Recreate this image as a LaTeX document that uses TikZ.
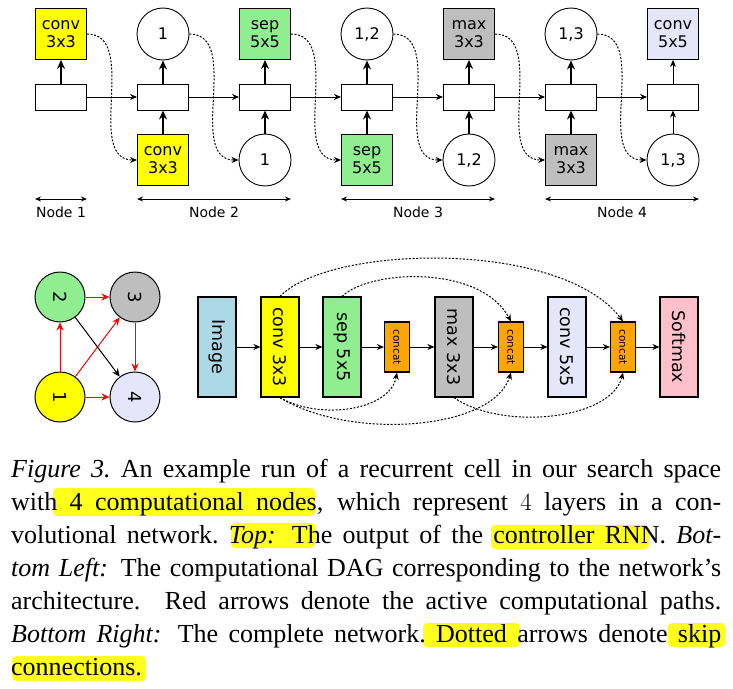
\documentclass[tikz,border=0pt]{standalone}
\usepackage[no-math]{fontspec}
\setmainfont{Liberation Serif}
\newfontfamily\dejavu{DejaVu Sans}
\usetikzlibrary{arrows.meta,positioning}
\definecolor{OpYellow}{RGB}{255,255,0}
\definecolor{OpGreen}{RGB}{144,238,144}
\definecolor{OpGray}{RGB}{190,190,190}
\definecolor{OpLavender}{RGB}{230,230,250}
\definecolor{ImgBlue}{RGB}{173,216,230}
\definecolor{SoftPink}{RGB}{255,192,203}
\definecolor{CatOrange}{RGB}{255,165,0}
\definecolor{HiYellow}{RGB}{255,255,30}

\begin{document}
\begin{tikzpicture}[x=1pt,y=-1pt,
  op/.style={draw,line width=0.9pt,minimum size=51pt,inner sep=0pt,align=center,
    font=\dejavu\fontsize{16}{18.5}\selectfont},
  idx/.style={circle,draw,line width=0.9pt,minimum size=52pt,inner sep=0pt,
    font=\dejavu\fontsize{16}{18.5}\selectfont},
  cell/.style={draw,line width=0.9pt,minimum width=51pt,minimum height=26pt,inner sep=0pt},
  feed/.style={line width=2pt,-{Stealth[length=9pt,width=8pt]}},
  flow/.style={line width=0.9pt,-{Stealth[length=7pt,width=6pt]}},
  skipline/.style={line width=1pt,dash pattern=on 2pt off 1.6pt,-{Stealth[length=7pt,width=6pt]}},
  span/.style={line width=0.9pt,{Stealth[length=6pt,width=5pt]}-{Stealth[length=6pt,width=5pt]}},
  dag/.style={circle,draw,line width=1pt,minimum size=50pt,inner sep=0pt,
    font=\dejavu\fontsize{18}{18}\selectfont},
  dagedge/.style={red,line width=1pt,-{Stealth[length=8pt,width=7pt]}},
  netbox/.style={draw,line width=1.2pt,minimum width=38pt,minimum height=100pt,inner sep=0pt,
    font=\dejavu\fontsize{17.5}{18}\selectfont},
  catbox/.style={draw,line width=1.2pt,fill=CatOrange,minimum width=25pt,minimum height=50pt,
    inner sep=0pt,font=\dejavu\fontsize{10.5}{11}\selectfont},
  hilite/.style={fill=HiYellow,rounded corners=4pt}]
  \useasboundingbox (0,0) rectangle (733,688);

  % controller output, top row
  \node[op,fill=OpYellow] (t0) at (61,34) {conv\\3x3};
  \node[idx] (t1) at (163,34) {1};
  \node[op,fill=OpGreen] (t2) at (265,34) {sep\\5x5};
  \node[idx] (t3) at (367,34) {1,2};
  \node[op,fill=OpGray] (t4) at (469,34) {max\\3x3};
  \node[idx] (t5) at (571,34) {1,3};
  \node[op,fill=OpLavender] (t6) at (673,34) {conv\\5x5};
  \foreach \i in {0,...,6}
    \node[cell] (m\i) at (61+102*\i,97) {};
  \node[op,fill=OpYellow] (b1) at (163,160) {conv\\3x3};
  \node[idx] (b2) at (265,160) {1};
  \node[op,fill=OpGreen] (b3) at (367,160) {sep\\5x5};
  \node[idx] (b4) at (469,160) {1,2};
  \node[op,fill=OpGray] (b5) at (571,160) {max\\3x3};
  \node[idx] (b6) at (673,160) {1,3};

  \foreach \i/\j in {0/1,1/2,2/3,3/4,4/5,5/6}{
    \draw[flow] (m\i) -- (m\j);
    \draw[skipline] (t\i.east) to[out=0,in=180] (b\j.west);
  }
  \foreach \i in {0,...,5} \draw[feed] (m\i) -- (t\i);
  \foreach \i in {1,...,5} \draw[feed] (b\i) -- (m\i);
  \draw[flow] (m6) -- (t6);
  \draw[flow] (b6) -- (m6);

  \coordinate (lvl) at (0,199);
  \foreach \a/\b/\k in {0/0/1,1/2/2,3/4/3,5/6/4}
    \draw[span] (m\a.west |- lvl) -- (m\b.east |- lvl)
      node[midway,below=4pt,font=\dejavu\fontsize{14}{16}\selectfont] {Node \k};

  % DAG
  \node[dag,fill=OpGreen] (d2) at (60,297) {\rotatebox{-90}{2}};
  \node[dag,fill=OpGray] (d3) at (135,297) {\rotatebox{-90}{3}};
  \node[dag,fill=OpYellow] (d1) at (60,397) {\rotatebox{-90}{1}};
  \node[dag,fill=OpLavender] (d4) at (135,397) {\rotatebox{-90}{4}};
  \draw[dagedge] (d1) -- (d2);
  \draw[dagedge] (d1) -- (d3);
  \draw[dagedge] (d1) -- (d4);
  \draw[dagedge] (d2) -- (d3);
  \draw[dagedge] (d3) -- (d4);
  \draw[dagedge,black] (d2) -- (d4);

  % complete network
  \node[netbox,fill=ImgBlue] (img) at (217,347) {\rotatebox{-90}{Image}};
  \node[netbox,fill=OpYellow] (conva) at (280,347) {\rotatebox{-90}{conv 3x3}};
  \node[netbox,fill=OpGreen] (sep) at (342,347) {\rotatebox{-90}{sep 5x5}};
  \node[catbox] (cat1) at (397,347) {\rotatebox{-90}{concat}};
  \node[netbox,fill=OpGray] (maxp) at (454,347) {\rotatebox{-90}{max 3x3}};
  \node[catbox] (cat2) at (511,347) {\rotatebox{-90}{concat}};
  \node[netbox,fill=OpLavender] (convb) at (567,347) {\rotatebox{-90}{conv 5x5}};
  \node[catbox] (cat3) at (623,347) {\rotatebox{-90}{concat}};
  \node[netbox,fill=SoftPink] (soft) at (679,347) {\rotatebox{-90}{Softmax}};
  \foreach \a/\b in {img/conva,conva/sep,sep/cat1,cat1/maxp,maxp/cat2,cat2/convb,convb/cat3,cat3/soft}
    \draw[flow] (\a) -- (\b);
  \draw[skipline] (conva.north) .. controls +(50,-52) and +(-62,-82) .. (cat3.north);
  \draw[skipline] (sep.north) .. controls +(28,-27) and +(-31,-57) .. (cat2.north);
  \draw[skipline] (conva.south) .. controls +(40,23) and +(-7,38) .. (cat1.south);
  \draw[skipline] (conva.south) .. controls +(70,43) and +(-18,58) .. (cat2.south);
  \draw[skipline] (maxp.south) .. controls +(47,33) and +(-12,48) .. (cat3.south);

  % caption
  \fill[hilite] (53,488) rectangle (315,516);
  \fill[hilite] (231,523) rectangle (315,548);
  \fill[hilite] (491,525) rectangle (649,549);
  \fill[hilite] (423,623) rectangle (520,647);
  \fill[hilite] (668,623) rectangle (725,647);
  \fill[hilite] (12,656) rectangle (146,681);
  \node[anchor=base west,inner sep=0pt] (cap) at (11,477) {\parbox[t]{710pt}{%
    \fontsize{26}{33}\selectfont\tolerance=10000\hbadness=10000
    \textit{Figure 3.}\ An example run of a recurrent cell in our search space\linebreak
    with 4 computational nodes, which represent $4$ layers in a con-\linebreak
    volutional network.\ \textit{Top:} The output of the controller RNN.\ \textit{Bot-}\linebreak
    \textit{tom Left:} The computational DAG corresponding to the network's\linebreak
    architecture.  Red arrows denote the active computational paths.\linebreak
    \textit{Bottom Right:} The complete network.\ Dotted arrows denote skip\linebreak
    connections.}};
\end{tikzpicture}
\end{document}
